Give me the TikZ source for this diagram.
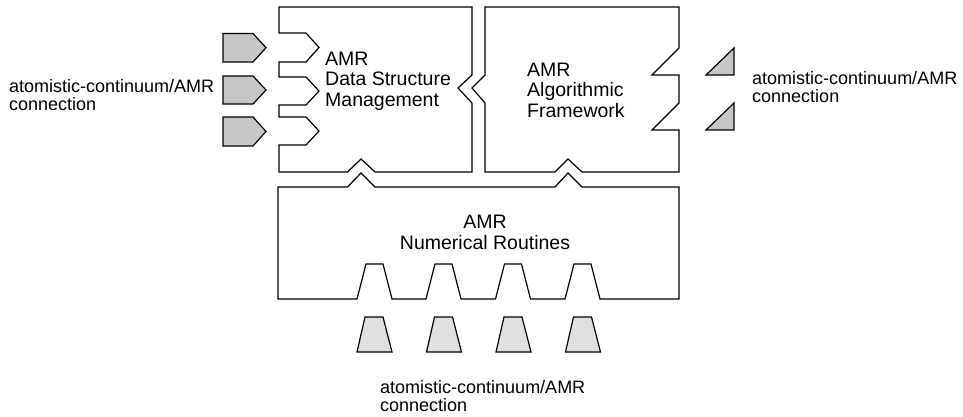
\documentclass[tikz,border=0pt]{standalone}
\usepackage{fontspec}
\setmainfont{Liberation Sans}
\definecolor{tabgrey}{HTML}{C6C6C6}
\definecolor{padgrey}{HTML}{E0E0E0}
\tikzset{
  outline/.style={draw=black, line width=1.2pt, line join=miter},
  tab/.style={outline, fill=tabgrey},
  pad/.style={outline, fill=padgrey},
  title/.style={inner sep=0pt, font=\fontsize{19.5}{20.7}\selectfont},
  note/.style={inner sep=0pt, align=left, font=\fontsize{18}{17.5}\selectfont}
}
\begin{document}
\begin{tikzpicture}[x=1pt, y=-1pt]
\useasboundingbox (0,0) rectangle (963,417);

% Data structure management block: three input sockets on the left,
% a notch on the right, a bump at the bottom
\draw[outline] (279,7) -- (472,7) -- (472,75) -- (458,88) -- (472,103)
  -- (472,172) -- (375,172) -- (361,159) -- (347.5,172) -- (279,172)
  -- (279,145) -- (306,145) -- (319,131) -- (306,117) -- (279,117)
  -- (279,105) -- (306,105) -- (319,91) -- (306,77) -- (279,77)
  -- (279,62) -- (306,62) -- (319,47.5) -- (306,33) -- (279,33) -- cycle;

% Algorithmic framework block
\draw[outline] (485,7) -- (679,7) -- (679,48) -- (652,75) -- (679,75)
  -- (679,103) -- (652,130) -- (679,130) -- (679,172) -- (582,172)
  -- (568,159) -- (555,172) -- (485,172) -- (485,103) -- (472,88)
  -- (485,75) -- cycle;

% Numerical routines block with four sockets along the bottom
\draw[outline] (278,187) -- (347.5,187) -- (361,173) -- (375,187)
  -- (555,187) -- (568,173) -- (582,187) -- (679,187) -- (679,299)
  -- (600,299) -- (591,264) -- (574,264) -- (565,299)
  -- (530.5,299) -- (521.5,264) -- (504.5,264) -- (495.5,299)
  -- (461,299) -- (452,264) -- (435,264) -- (426,299)
  -- (392,299) -- (383,264) -- (366,264) -- (357,299)
  -- (278,299) -- cycle;

% Left connection tabs
\foreach \t/\b in {33.5/62, 76/104, 117/146}
  \draw[tab] (223,\t) -- (253,\t) -- (266,{(\t+\b)/2}) -- (253,\b) -- (223,\b) -- cycle;

% Right connection wedges
\foreach \b in {75, 130}
  \draw[tab] (706,\b) -- (734,\b) -- (734,\b-27) -- cycle;

% Bottom connection pads
\foreach \k in {0,1,2,3}
  \draw[pad] ({357+69.5*\k},352) -- ({365+69.5*\k},317) -- ({383+69.5*\k},317)
    -- ({392+69.5*\k},352) -- cycle;

% Block titles (base anchor sits on the last line)
\node[title, align=left, anchor=base west] (dsm) at (325,106.7) {AMR\\Data Structure\\Management};
\node[title, align=left, anchor=base west] (alg) at (527,117.5) {AMR\\Algorithmic\\Framework};
\node[title, align=center, anchor=base] (num) at (485,249) {AMR\\Numerical Routines};

% Connection labels
\node[note, anchor=base west] (lnote) at (9,110.5) {atomistic-continuum/AMR\\connection};
\node[note, anchor=base west] (rnote) at (752,102.5) {atomistic-continuum/AMR\\connection};
\node[note, anchor=base west] (bnote) at (380,411) {atomistic-continuum/AMR\\connection};
\end{tikzpicture}
\end{document}
